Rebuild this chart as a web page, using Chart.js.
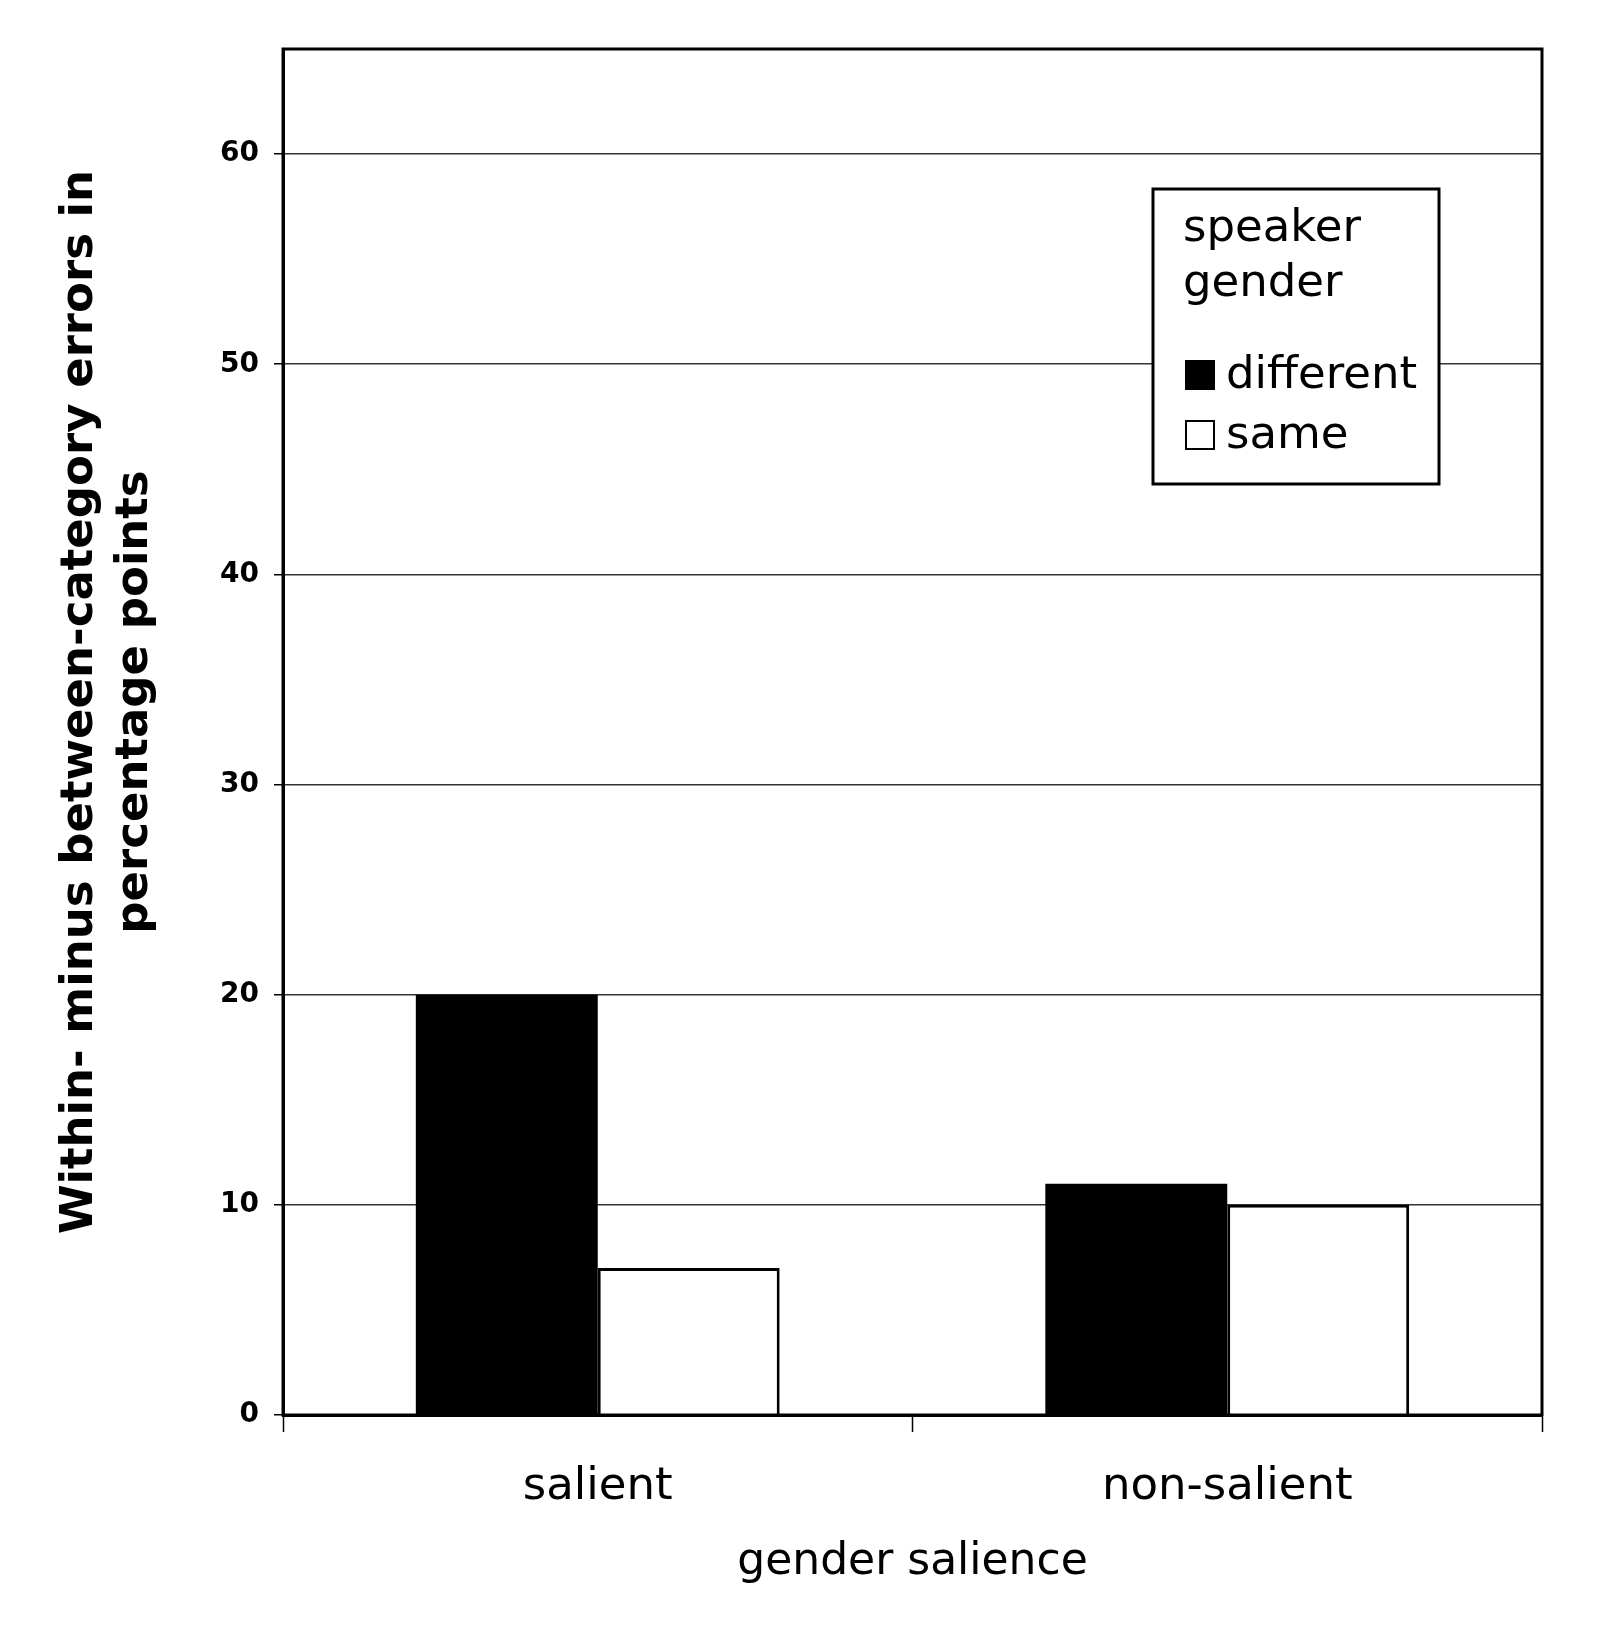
<!DOCTYPE html>
<html>
<head>
<meta charset="utf-8">
<title>gender salience</title>
<script src="https://cdn.jsdelivr.net/npm/chart.js@4.4.1/dist/chart.umd.min.js"></script>
<style>
  html, body { margin: 0; padding: 0; background: #fff; }
  #wrap { width: 1600px; height: 1647px; }
</style>
</head>
<body>
<div id="wrap"><canvas id="graph" width="1600" height="1647"></canvas></div>
<script>
// donnees
const categories = ['salient', 'non-salient'];
const seriesNames = ['different', 'same'];
const differentValues = [20, 11];
const sameValues = [7, 10];
const yTicks = [0, 10, 20, 30, 40, 50, 60];
const yMax = 65;
const yTitle = ['Within- minus between-category errors in', 'percentage points'];
const xTitle = 'gender salience';
const legendTitle = ['speaker', 'gender'];

Chart.defaults.font.family = '"DejaVu Sans", Verdana, sans-serif';
Chart.defaults.color = '#000';

// cadre autour de la zone du graphique
const framePlugin = {
    id: 'frame',
    afterDraw(chart) {
        const a = chart.chartArea;
        const ctx = chart.ctx;
        ctx.save();
        ctx.strokeStyle = '#000';
        ctx.lineWidth = 3;
        ctx.strokeRect(a.left, a.top, a.right - a.left, a.bottom - a.top);
        ctx.restore();
    }
};

// titre de l'axe y sur deux lignes
const yTitlePlugin = {
    id: 'yTitle',
    afterDraw(chart) {
        const ctx = chart.ctx;
        const cy = 702;
        const xs = [92, 147];
        ctx.save();
        ctx.fillStyle = '#000';
        ctx.font = 'bold 45px "DejaVu Sans"';
        ctx.textAlign = 'center';
        ctx.textBaseline = 'alphabetic';
        yTitle.forEach(function(line, i) {
            ctx.save();
            ctx.translate(xs[i], cy);
            ctx.rotate(-Math.PI / 2);
            ctx.fillText(line, 0, 0);
            ctx.restore();
        });
        ctx.restore();
    }
};

// legende encadree dans la zone du graphique
const boxLegend = {
    id: 'boxLegend',
    afterDraw(chart) {
        const ctx = chart.ctx;
        const left = 1153, top = 189, w = 286, h = 295;
        ctx.save();
        ctx.fillStyle = '#fff';
        ctx.fillRect(left, top, w, h);
        ctx.strokeStyle = '#000';
        ctx.lineWidth = 3;
        ctx.strokeRect(left, top, w, h);
        ctx.fillStyle = '#000';
        ctx.font = '45px "DejaVu Sans"';
        ctx.textAlign = 'left';
        ctx.textBaseline = 'middle';
        ctx.fillText(legendTitle[0], 1183, 229);
        ctx.fillText(legendTitle[1], 1183, 284);
        const rows = [375, 435];
        chart.data.datasets.forEach(function(ds, i) {
            const y = rows[i];
            ctx.fillStyle = ds.backgroundColor;
            ctx.fillRect(1186, y - 14, 28, 28);
            ctx.strokeStyle = '#000';
            ctx.lineWidth = 2;
            ctx.strokeRect(1186, y - 14, 28, 28);
            ctx.fillStyle = '#000';
            ctx.fillText(ds.label, 1226, y + 1);
        });
        ctx.restore();
    }
};

var ctx = document.getElementById('graph').getContext('2d');

var data = {
    labels: categories,
    datasets: [{
        label: seriesNames[0],
        data: differentValues,
        backgroundColor: '#000',
        borderColor: '#000',
        borderWidth: 0
    }, {
        label: seriesNames[1],
        data: sameValues,
        backgroundColor: '#fff',
        borderColor: '#000',
        borderWidth: 3
    }]
};

var options = {
    responsive: false,
    animation: false,
    devicePixelRatio: 1,
    categoryPercentage: 0.578,
    barPercentage: 1,
    layout: { padding: { top: 49, right: 58, left: 0, bottom: 0 } },
    plugins: {
        legend: { display: false },
        tooltip: { enabled: false }
    },
    scales: {
        x: {
            grid: {
                offset: true,
                drawOnChartArea: false,
                tickLength: 17,
                tickColor: '#000',
                tickWidth: 1.5
            },
            border: { display: true, color: '#000', width: 3 },
            ticks: {
                font: { size: 45 },
                color: '#000',
                padding: 28
            },
            title: {
                display: true,
                text: xTitle,
                font: { size: 44 },
                color: '#000',
                padding: { top: 0, bottom: 58 }
            },
            afterFit(scale) { scale.height = 232; }
        },
        y: {
            min: 0,
            max: yMax,
            afterBuildTicks(scale) {
                scale.ticks = yTicks.map(v => ({ value: v }));
            },
            grid: {
                color: '#333',
                lineWidth: 1.5,
                tickLength: 9,
                tickColor: '#000',
                tickWidth: 1.5
            },
            border: { display: true, color: '#000', width: 3 },
            ticks: {
                font: { size: 28, weight: 'bold' },
                color: '#000',
                padding: 15
            },
            afterFit(scale) { scale.width = 283; }
        }
    }
};

var config = {
    type: 'bar',
    data: data,
    options: options,
    plugins: [framePlugin, yTitlePlugin, boxLegend]
};

var graph1 = new Chart(ctx, config);
</script>
</body>
</html>
